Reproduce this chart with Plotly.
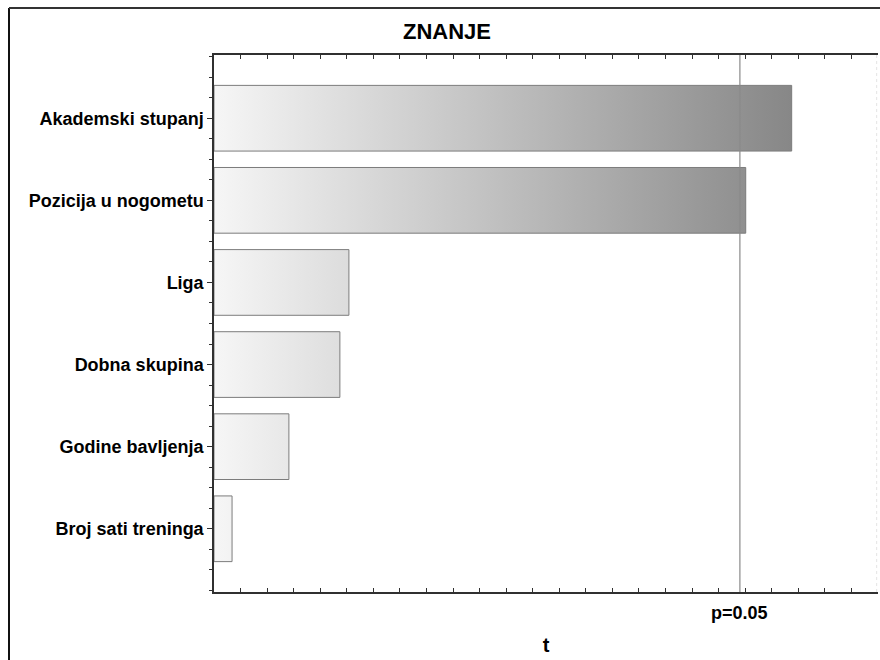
import plotly.graph_objects as go

# Data
factors = ["Akademski stupanj", "Pozicija u nogometu", "Liga",
           "Dobna skupina", "Godine bavljenja", "Broj sati treninga"]
t_values = [2.175, 2.002, 0.508, 0.474, 0.282, 0.068]
t_crit = 1.98
crit_label = "p=0.05"
title_text = "ZNANJE"
x_title = "t"

W, H = 880, 660
ML, MR, MT, MB = 214, 2, 55, 68
PW, PH = W - ML - MR, H - MT - MB

def px2paper_x(px):
    return (px - ML) / PW

def px2paper_y(py):
    return (H - MB - py) / PH

half = 0.40
vmax = max(t_values)
fig = go.Figure()
for i, (name, v) in enumerate(zip(factors, t_values)):
    fig.add_trace(go.Scatter(
        x=[0, v, v, 0, 0],
        y=[i - half, i - half, i + half, i + half, i - half],
        mode="lines", fill="toself",
        line=dict(color="#7c7c7c", width=1),
        fillgradient=dict(type="horizontal",
                          colorscale=[[0, "#f6f6f6"], [1, "#878787"]],
                          start=0, stop=vmax),
        hoverinfo="skip", showlegend=False, name=name))

n = len(factors)
fig.update_layout(
    width=W, height=H,
    margin=dict(l=ML, r=MR, t=MT, b=MB),
    paper_bgcolor="white", plot_bgcolor="white",
    font=dict(family="Liberation Sans, Arial, sans-serif", color="black"),
    showlegend=False,
    xaxis=dict(range=[0, 2.5], showgrid=False, zeroline=False,
               showline=True, linecolor="#303030", linewidth=1.5, mirror="ticks",
               ticks="inside", ticklen=4, tickcolor="#303030", dtick=0.1, tick0=0,
               showticklabels=False,
               title=dict(text="<b>" + x_title + "</b>", font=dict(size=20), standoff=45)),
    yaxis=dict(range=[n - 1 + 0.77, -0.77], showgrid=False, zeroline=False,
               showline=True, linecolor="#303030", linewidth=1.5,
               tickmode="array", tickvals=list(range(n)),
               ticktext=["<b>" + f + "</b>" for f in factors],
               tickfont=dict(size=18),
               ticks="outside", ticklen=5, tickcolor="#303030",
               minor=dict(dtick=0.25, tick0=0, ticks="outside", ticklen=3,
                          tickcolor="#303030")),
)

# critical value line
fig.add_shape(type="line", xref="x", yref="paper", x0=t_crit, x1=t_crit,
              y0=0, y1=1, line=dict(color="#8a8a8a", width=1.2))
# faint right border of the plot area
fig.add_shape(type="line", xref="paper", yref="paper", x0=0.998, x1=0.998, y0=0, y1=1,
              line=dict(color="#e4e4e4", width=1, dash="dot"))
# outer frame (left and top edges visible in the reference)
fig.add_shape(type="line", xref="paper", yref="paper",
              x0=px2paper_x(9), x1=px2paper_x(9),
              y0=px2paper_y(H), y1=px2paper_y(8),
              line=dict(color="#111111", width=2), layer="below")
fig.add_shape(type="line", xref="paper", yref="paper",
              x0=px2paper_x(9), x1=px2paper_x(W),
              y0=px2paper_y(8), y1=px2paper_y(8),
              line=dict(color="#333333", width=2), layer="below")

fig.add_annotation(x=t_crit, xref="x", y=px2paper_y(613), yref="paper",
                   text="<b>" + crit_label + "</b>", showarrow=False,
                   font=dict(size=18), xanchor="center", yanchor="middle")
fig.add_annotation(x=px2paper_x(447), xref="paper", y=px2paper_y(31), yref="paper",
                   text="<b>" + title_text + "</b>", showarrow=False,
                   font=dict(size=22), xanchor="center", yanchor="middle")

fig.write_html("out.html", config={"displayModeBar": False},
               post_script="document.body.style.margin='0';document.body.style.padding='0';document.body.style.overflow='hidden';")
